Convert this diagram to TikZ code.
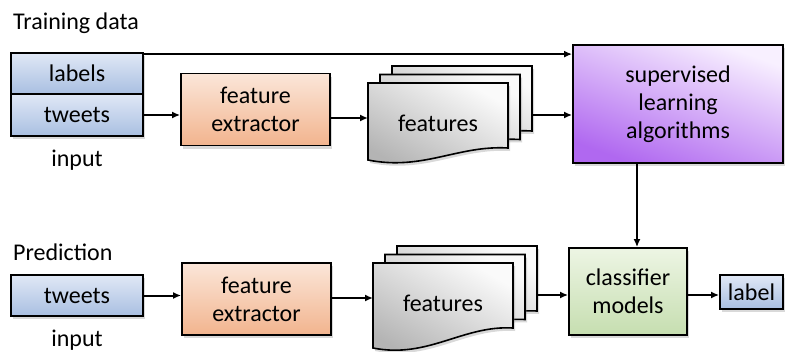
\documentclass[tikz,border=0pt]{standalone}
\usepackage{fontspec}
\setmainfont{Carlito}
\usetikzlibrary{arrows.meta,shadows}
\definecolor{inTop}{HTML}{E0E8F6}
\definecolor{inBot}{HTML}{A9BFE1}
\definecolor{exTop}{HTML}{FBE6D9}
\definecolor{exBot}{HTML}{F2B48E}
\definecolor{clTop}{HTML}{EDF5E4}
\definecolor{clBot}{HTML}{C6DEB0}
\definecolor{suTop}{HTML}{F8F0FF}
\definecolor{suBot}{HTML}{B068F0}
\definecolor{shTop}{HTML}{FAFAFA}
\definecolor{shBot}{HTML}{B4B4B4}
\tikzset{every node/.style={font=\fontsize{24}{28}\selectfont, inner sep=0pt, align=center},
  box/.style={draw, line width=1.8pt, rectangle, drop shadow={shadow xshift=2pt, shadow yshift=-3pt, opacity=0.3}},
  inbox/.style={box, top color=inTop, bottom color=inBot},
  exbox/.style={box, top color=exTop, bottom color=exBot, minimum width=149pt, minimum height=72pt},
  subox/.style={box, top color=suTop, bottom color=suBot, shading angle=-20},
  clbox/.style={box, top color=clTop, bottom color=clBot},
  sheet/.style={draw, line width=1.6pt, top color=shTop, bottom color=shBot, shading angle=-30, drop shadow={shadow xshift=2pt, shadow yshift=-3pt, opacity=0.3}},
  flow/.style={line width=2pt, -{Latex[length=8pt,width=7pt]}}}

\begin{document}
\begin{tikzpicture}[x=1pt, y=-1pt]
       \useasboundingbox (0,0) rectangle (785,351);
       % training
       \node[anchor=west] (train) at (13,23) {Training data};
       \node[inbox, minimum width=132pt, minimum height=41pt] (labels) at (77,73.5) {labels};
       \node[inbox, minimum width=132pt, minimum height=42pt] (tweetsA) at (77,115) {tweets};
       \node (inputA) at (77,160) {input};
       \node[exbox] (extrA) at (255.5,109.5) {feature\\extractor};
       \node[subox, minimum width=210pt, minimum height=118pt] (sup) at (678,104) {supervised\\learning\\algorithms};
       % prediction
       \node[anchor=west] (pred) at (13,252) {Prediction};
       \node[inbox, minimum width=132pt, minimum height=41pt] (tweetsB) at (77,295.5) {tweets};
       \node (inputB) at (77,340) {input};
       \node[exbox] (extrB) at (256.5,299) {feature\\extractor};
       \node[clbox, minimum width=118pt, minimum height=87pt] (cls) at (628,291.5) {classifier\\models};
       \node[inbox, minimum width=63pt, minimum height=34pt] (lab) at (751.5,292) {label};
       % feature stacks
       \foreach \n/\x/\y/\d in {featA/368/83/77, featB/373/263/85}{
        \begin{scope}[shift={(\x,\y)}]
         \foreach \dx/\dy in {24/-17, 12/-8.5, 0/0}
          \draw[sheet, shift={(\dx,\dy)}] (0,0) -- (140,0) -- (140,65) .. controls (90,62) and (55,\d+11) .. (0,\d) -- cycle;
         \coordinate (\n-in) at (0,35);
         \coordinate (\n-out) at (164,32);
         \node (\n) at (70,40) {features};
        \end{scope}}
       % connectors
       \draw[flow] ([yshift=-2pt]labels.north east) -- ([yshift=-2pt]labels.north east -| sup.west);
       \draw[flow] (tweetsA.east) -- (tweetsA.east -| extrA.west);
       \draw[flow] (extrA.east |- featA-in) -- (featA-in);
       \draw[flow] (featA-out) -- (featA-out -| sup.west);
       \coordinate (drop) at ([xshift=9pt]cls.north);
       \draw[flow] (drop |- sup.south) -- (drop);
       \draw[flow] (tweetsB.east) -- (tweetsB.east -| extrB.west);
       \draw[flow] (extrB.east |- featB-in) -- (featB-in);
       \draw[flow] (featB-out) -- (featB-out -| cls.west);
       \draw[flow] (featB-out -| cls.east) -- (featB-out -| lab.west);
      \end{tikzpicture}
\end{document}
